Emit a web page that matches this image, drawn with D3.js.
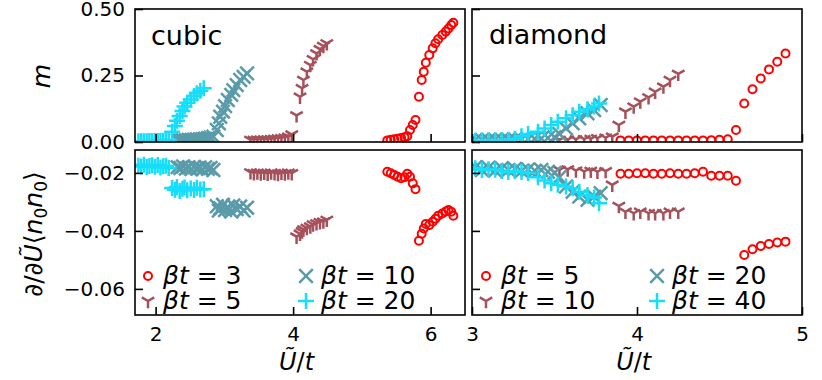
<!DOCTYPE html>
<html>
<head>
<meta charset="utf-8">
<script src="https://cdn.jsdelivr.net/npm/d3@7"></script>
<style>
body { margin: 0; background: #fff; }
text { font-family: "DejaVu Sans", sans-serif; fill: #000; }
</style>
</head>
<body>
<svg id="fig" width="822" height="380"></svg>
<script>
// ---- cubic lattice, beta t = 3, 5, 10, 20
let cub3X = [5.37,5.42,5.47,5.52,5.57,5.62,5.66,5.70,5.74,5.78,5.83,5.87,5.90,5.93,5.98,6.03,6.07,6.11,6.17,6.22,6.26,6.30,6.33];
let cub3M = [0.006,0.008,0.010,0.012,0.015,0.018,0.022,0.045,0.064,0.083,0.170,0.233,0.264,0.298,0.327,0.352,0.371,0.386,0.402,0.415,0.427,0.440,0.448];
let cub3D = [-0.0196,-0.0201,-0.0207,-0.0213,-0.0218,-0.0215,-0.0203,-0.0213,-0.0236,-0.0256,-0.0434,-0.0410,-0.0392,-0.0376,-0.0380,-0.0368,-0.0358,-0.0348,-0.0340,-0.0333,-0.0328,-0.0334,-0.0348];

let cub5X = [3.38,3.43,3.48,3.53,3.58,3.63,3.68,3.73,3.78,3.83,3.88,3.93,3.98,4.05,4.10,4.13,4.15,4.20,4.25,4.29,4.34,4.39,4.44,4.49];
let cub5M = [0.008,0.008,0.009,0.009,0.010,0.010,0.011,0.012,0.013,0.014,0.016,0.020,0.028,0.100,0.170,0.202,0.233,0.264,0.289,0.311,0.333,0.349,0.361,0.371];
let cub5D = [-0.0198,-0.0201,-0.0199,-0.0202,-0.0200,-0.0203,-0.0199,-0.0201,-0.0204,-0.0200,-0.0202,-0.0199,-0.0201,-0.0420,-0.0410,-0.0402,-0.0395,-0.0390,-0.0385,-0.0378,-0.0374,-0.0370,-0.0368,-0.0362];

let cub10X = [2.32,2.36,2.40,2.44,2.48,2.52,2.56,2.60,2.64,2.68,2.72,2.76,2.80,2.84,2.89,2.92,2.94,2.98,3.01,3.05,3.10,3.13,3.18,3.23,3.28,3.33];
let cub10M = [0.006,0.006,0.007,0.007,0.008,0.008,0.009,0.010,0.010,0.011,0.012,0.014,0.016,0.020,0.045,0.070,0.095,0.114,0.135,0.158,0.177,0.195,0.214,0.233,0.245,0.258];
let cub10D = [-0.0180,-0.0183,-0.0178,-0.0185,-0.0181,-0.0187,-0.0179,-0.0184,-0.0182,-0.0188,-0.0180,-0.0186,-0.0183,-0.0190,-0.0315,-0.0330,-0.0322,-0.0310,-0.0328,-0.0318,-0.0333,-0.0312,-0.0325,-0.0316,-0.0330,-0.0320];

let cub20X = [1.75,1.79,1.83,1.87,1.91,1.95,1.99,2.03,2.07,2.11,2.15,2.19,2.24,2.28,2.31,2.35,2.39,2.42,2.46,2.51,2.56,2.60,2.65,2.70];
let cub20M = [0.003,0.003,0.003,0.003,0.004,0.004,0.004,0.004,0.005,0.005,0.006,0.008,0.039,0.060,0.080,0.098,0.117,0.133,0.148,0.160,0.173,0.183,0.193,0.202];
let cub20D = [-0.0175,-0.0178,-0.0172,-0.0180,-0.0176,-0.0174,-0.0179,-0.0173,-0.0181,-0.0177,-0.0175,-0.0183,-0.0252,-0.0258,-0.0249,-0.0262,-0.0255,-0.0250,-0.0260,-0.0254,-0.0259,-0.0251,-0.0257,-0.0256];

// ---- diamond lattice, beta t = 5, 10, 20, 40
let dia5X = [3.90,3.95,4.00,4.05,4.10,4.15,4.20,4.25,4.30,4.35,4.40,4.45,4.50,4.55,4.60,4.65,4.70,4.75,4.80,4.85,4.90];
let dia5M = [0.006,0.006,0.006,0.006,0.006,0.006,0.006,0.006,0.006,0.006,0.006,0.007,0.008,0.010,0.045,0.145,0.198,0.239,0.273,0.302,0.333];
let dia5D = [-0.0203,-0.0203,-0.0201,-0.0201,-0.0203,-0.0203,-0.0201,-0.0203,-0.0203,-0.0201,-0.0196,-0.0210,-0.0210,-0.0210,-0.0227,-0.0483,-0.0463,-0.0452,-0.0445,-0.0440,-0.0437];

let dia10X = [3.53,3.58,3.63,3.68,3.72,3.76,3.81,3.85,3.89,3.93,3.98,4.02,4.07,4.11,4.16,4.20,4.25];
let dia10M = [0.008,0.009,0.010,0.011,0.012,0.014,0.016,0.020,0.064,0.114,0.133,0.152,0.168,0.189,0.208,0.233,0.256];
let dia10D = [-0.0190,-0.0188,-0.0192,-0.0195,-0.0193,-0.0196,-0.0194,-0.0241,-0.0314,-0.0334,-0.0339,-0.0334,-0.0339,-0.0339,-0.0339,-0.0334,-0.0334];

let dia20X = [3.02,3.06,3.10,3.14,3.18,3.22,3.26,3.30,3.34,3.38,3.42,3.46,3.50,3.53,3.57,3.61,3.65,3.70,3.74,3.78];
let dia20M = [0.008,0.008,0.008,0.009,0.009,0.009,0.010,0.010,0.011,0.012,0.013,0.015,0.018,0.030,0.051,0.070,0.089,0.108,0.120,0.139];
let dia20D = [-0.0180,-0.0190,-0.0182,-0.0192,-0.0184,-0.0190,-0.0186,-0.0194,-0.0188,-0.0192,-0.0190,-0.0196,-0.0200,-0.0215,-0.0247,-0.0265,-0.0282,-0.0293,-0.0282,-0.0270];

let dia40X = [3.02,3.06,3.10,3.14,3.18,3.22,3.26,3.30,3.34,3.40,3.44,3.48,3.52,3.57,3.61,3.65,3.70,3.74,3.77];
let dia40M = [0.005,0.005,0.006,0.006,0.007,0.008,0.012,0.022,0.030,0.039,0.051,0.064,0.076,0.089,0.101,0.114,0.123,0.133,0.145];
let dia40D = [-0.0184,-0.0190,-0.0187,-0.0189,-0.0193,-0.0197,-0.0194,-0.0197,-0.0200,-0.0215,-0.0226,-0.0236,-0.0241,-0.0247,-0.0253,-0.0265,-0.0276,-0.0285,-0.0305];

let cubicLabels = ["3", "5", "10", "20"];
let diamondLabels = ["5", "10", "20", "40"];
let mTicks = [0, 0.25, 0.5];
let dTicks = [-0.02, -0.04, -0.06];
let cubicTicks = [2, 4, 6];
let diamondTicks = [3, 4, 5];

let colors = ["#ff0000", "#a5505a", "#5a9baa", "#16defa"];
let marks = ["o", "y", "x", "+"];

let svg = d3.select("#fig");

let xL = d3.scaleLinear().domain([1.7, 6.5]).range([135, 465]);
let xR = d3.scaleLinear().domain([3, 5]).range([472, 802]);
let yM = d3.scaleLinear().domain([0, 0.5]).range([142, 9]);
let yD = d3.scaleLinear().domain([-0.069, -0.0121]).range([315, 150]);

function markerPath(t) {
	if (t == "y") {
		let r = 7.2, c = 0.866;
		return `M0,0L0,${r}M0,0L${-r*c},${-r/2}M0,0L${r*c},${-r/2}`;
	}
	if (t == "x") { let s = 6.8; return `M${-s},${-s}L${s},${s}M${-s},${s}L${s},${-s}`; }
	return `M-8,0L8,0M0,-8L0,8`;
}

function drawMarker(g, t, c) {
	if (t == "o") {
		g.append("circle").attr("r", 4).attr("fill", "none").attr("stroke", c).attr("stroke-width", 2);
	} else {
		g.append("path").attr("d", markerPath(t)).attr("fill", "none")
			.attr("stroke", c).attr("stroke-width", 2.5);
	}
}

let defs = svg.append("defs");
let clipN = 0;

function panel(x, y, xt, yt, showX, showY, series, key) {
	let id = "clip" + (clipN++);
	let [x0, x1] = x.range(), [y0, y1] = y.range();
	defs.append("clipPath").attr("id", id).append("rect")
		.attr("x", x0).attr("y", y1).attr("width", x1 - x0).attr("height", y0 - y1);

	let area = svg.append("g").attr("clip-path", `url(#${id})`);
	series.forEach((s, i) => {
		let pts = s.x.map((v, j) => ({x: v, y: s[key][j]}));
		area.append("g").selectAll("g")
			.data(pts)
			.join("g")
				.attr("transform", d => `translate(${x(d.x)},${y(d.y)})`)
				.each(function() { drawMarker(d3.select(this), marks[i], colors[i]); });
	});

	let ax = svg.append("g").attr("transform", `translate(0,${y0})`)
		.call(d3.axisBottom(x).tickValues(xt).tickSize(-8).tickPadding(12)
			.tickFormat(showX ? d3.format("d") : ""));
	let ay = svg.append("g").attr("transform", `translate(${x0},0)`)
		.call(d3.axisLeft(y).tickValues(yt).tickSize(-8).tickPadding(10)
			.tickFormat(showY ? d3.format(".2f") : ""));
	[ax, ay].forEach(a => {
		a.attr("font-size", 20).attr("font-family", "DejaVu Sans");
		a.select(".domain").remove();
		a.selectAll("line").attr("stroke", "#000").attr("stroke-width", 1.6);
		a.selectAll("text").attr("fill", "#000");
	});

	svg.append("rect").attr("x", x0).attr("y", y1).attr("width", x1 - x0).attr("height", y0 - y1)
		.attr("fill", "none").attr("stroke", "#000").attr("stroke-width", 1.6);
}

let cubicSeries = [
	{x: cub3X, m: cub3M, d: cub3D},
	{x: cub5X, m: cub5M, d: cub5D},
	{x: cub10X, m: cub10M, d: cub10D},
	{x: cub20X, m: cub20M, d: cub20D}
];
let diamondSeries = [
	{x: dia5X, m: dia5M, d: dia5D},
	{x: dia10X, m: dia10M, d: dia10D},
	{x: dia20X, m: dia20M, d: dia20D},
	{x: dia40X, m: dia40M, d: dia40D}
];

panel(xL, yM, cubicTicks, mTicks, false, true, cubicSeries, "m");
panel(xL, yD, cubicTicks, dTicks, true, true, cubicSeries, "d");
panel(xR, yM, diamondTicks, mTicks, false, false, diamondSeries, "m");
panel(xR, yD, diamondTicks, dTicks, true, false, diamondSeries, "d");

// panel titles
svg.append("text").attr("x", 151).attr("y", 45).attr("font-size", 27).text("cubic");
svg.append("text").attr("x", 489).attr("y", 44).attr("font-size", 27).text("diamond");

// legends, two columns filled column-wise
function legend(labels, cols, rows) {
	labels.forEach((lbl, i) => {
		let cx = cols[Math.floor(i / 2)], cy = rows[i % 2];
		let g = svg.append("g").attr("transform", `translate(${cx},${cy})`);
		drawMarker(g, marks[i], colors[i]);
		let t = svg.append("text").attr("x", cx + 15).attr("y", cy + 8).attr("font-size", 25);
		t.append("tspan").attr("font-style", "italic").text("βt");
		t.append("tspan").text(" = " + lbl);
	});
}
legend(cubicLabels, [148, 306], [276, 301]);
legend(diamondLabels, [486, 657], [276, 301]);

// axis labels
function xlabel(cx) {
	let t = svg.append("text").attr("x", cx).attr("y", 370).attr("font-size", 24).attr("text-anchor", "middle");
	t.append("tspan").attr("font-style", "italic").text("Ũ");
	t.append("tspan").text("/");
	t.append("tspan").attr("font-style", "italic").text("t");
}
xlabel(xL(4.05));
xlabel(xR(3.98));

svg.append("text").attr("transform", "translate(50,76) rotate(-90)")
	.attr("font-size", 25).attr("font-style", "italic").attr("text-anchor", "middle").text("m");

let yl = svg.append("text").attr("transform", "translate(42,234) rotate(-90)")
	.attr("font-size", 25).attr("text-anchor", "middle");
yl.append("tspan").attr("font-style", "italic").text("∂");
yl.append("tspan").text("/");
yl.append("tspan").attr("font-style", "italic").text("∂Ũ");
yl.append("tspan").text("⟨");
yl.append("tspan").attr("font-style", "italic").text("n");
yl.append("tspan").attr("font-size", 17).attr("dy", 5).text("0");
yl.append("tspan").attr("font-style", "italic").attr("dy", -5).text("n");
yl.append("tspan").attr("font-size", 17).attr("dy", 5).text("0");
yl.append("tspan").attr("dy", -5).text("⟩");
</script>
</body>
</html>
